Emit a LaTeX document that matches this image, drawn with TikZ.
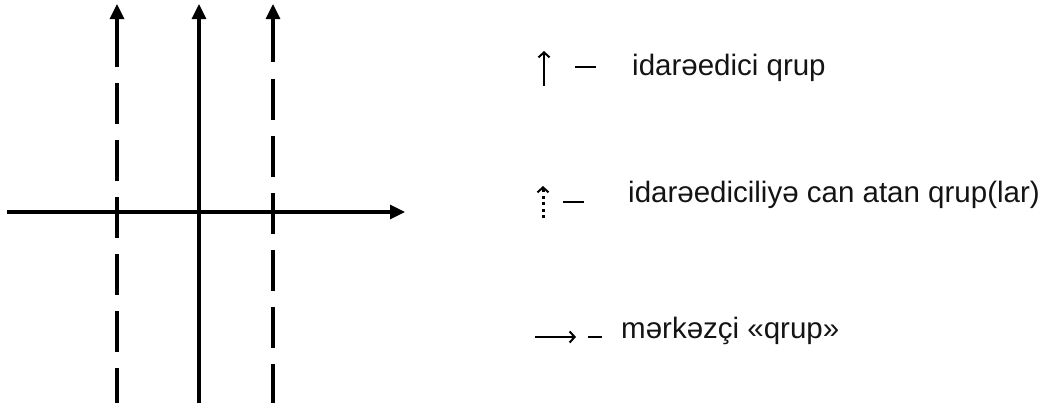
\documentclass[tikz,border=0pt]{standalone}
\usepackage{fontspec}
\setmainfont{Liberation Sans}
\usetikzlibrary{arrows.meta}
\begin{document}
\begin{tikzpicture}[x=1pt,y=-1pt,
  axisline/.style={line width=3.2pt, line cap=butt},
  bigtip/.style={-{Triangle[length=15pt,width=14pt]}},
  dashline/.style={line width=3.2pt, dash pattern=on 41pt off 16pt},
  legtip/.style={-{Straight Barb[length=5pt,width=11pt,line width=2pt]}},
  legdash/.style={line width=2.2pt},
  legtext/.style={anchor=base west, inner sep=0pt, font=\fontsize{29.5}{34}\selectfont, text=black!92}
]
\useasboundingbox (0,0) rectangle (1055,405);
% coordinates of the axes
\coordinate (hL) at (7,212);
\coordinate (hR) at (405,212);
\coordinate (cB) at (199,403);
\coordinate (cT) at (199,4);
\coordinate (lT) at (117,4);
\coordinate (lS) at (117,67);
\coordinate (lD) at (117,83);
\coordinate (lB) at (117,403);
\coordinate (rT) at (273,4);
\coordinate (rS) at (273,62);
\coordinate (rD) at (273,79);
\coordinate (rB) at (273,403);
% horizontal axis and central solid line
\draw[axisline, bigtip] (hL) -- (hR);
\draw[axisline, bigtip] (cB) -- (cT);
% dashed lines with solid arrowed top
\draw[axisline, bigtip] (lS) -- (lT);
\draw[dashline] (lD) -- (lB);
\draw[axisline, bigtip] (rS) -- (rT);
\draw[dashline] (rD) -- (rB);
% legend 1
\coordinate (a1b) at (544,86);
\coordinate (a1t) at (544,51);
\draw[line width=2.2pt, legtip] (a1b) -- (a1t);
\coordinate (d1a) at (575,67);
\coordinate (d1b) at (596,67);
\draw[legdash] (d1a) -- (d1b);
\node[legtext] (t1) at (632,75) {idarəedici qrup};
% legend 2
\coordinate (a2b) at (543,218);
\coordinate (a2t) at (543,186);
\draw[line width=3pt, dash pattern=on 3pt off 3.5pt, legtip] (a2b) -- (a2t);
\coordinate (d2a) at (563,202);
\coordinate (d2b) at (584,202);
\draw[legdash] (d2a) -- (d2b);
\node[legtext] (t2) at (628,202) {idarəediciliyə can atan qrup(lar)};
% legend 3
\coordinate (a3l) at (535,337);
\coordinate (a3r) at (576,337);
\draw[line width=2.2pt, legtip] (a3l) -- (a3r);
\coordinate (d3a) at (588,337);
\coordinate (d3b) at (602,337);
\draw[legdash] (d3a) -- (d3b);
\node[legtext] (t3) at (621,338) {mərkəzçi «qrup»};
\end{tikzpicture}
\end{document}
